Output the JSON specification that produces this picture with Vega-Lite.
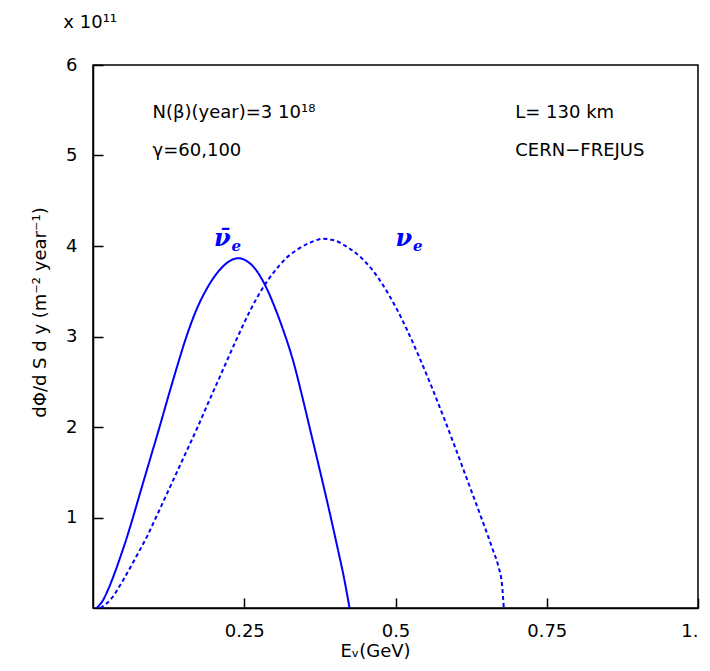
{
  "$schema": "https://vega.github.io/schema/vega-lite/v6.json",
  "width": 605,
  "height": 543,
  "autosize": "none",
  "padding": {"left": 93, "top": 65, "right": 12, "bottom": 63},
  "background": "white",
  "config": {
    "view": {"stroke": "black", "strokeWidth": 1.5},
    "font": "DejaVu Sans",
    "axis": {
      "domainColor": "black", "domainWidth": 1.5,
      "tickColor": "black", "tickWidth": 1.5, "tickSize": -10,
      "labelColor": "black", "labelFont": "DejaVu Sans", "labelFontSize": 18,
      "titleColor": "black", "titleFont": "DejaVu Sans", "titleFontSize": 18, "titleFontWeight": "normal",
      "grid": false
    }
  },
  "datasets": {
    "curves": [
      {"E": 0.006, "flux": 0, "series": "anti"},
      {"E": 0.016, "flux": 0.08, "series": "anti"},
      {"E": 0.026, "flux": 0.22, "series": "anti"},
      {"E": 0.036, "flux": 0.39, "series": "anti"},
      {"E": 0.046, "flux": 0.58, "series": "anti"},
      {"E": 0.056, "flux": 0.78, "series": "anti"},
      {"E": 0.066, "flux": 1.0, "series": "anti"},
      {"E": 0.08, "flux": 1.32, "series": "anti"},
      {"E": 0.095, "flux": 1.66, "series": "anti"},
      {"E": 0.11, "flux": 2.0, "series": "anti"},
      {"E": 0.125, "flux": 2.35, "series": "anti"},
      {"E": 0.14, "flux": 2.69, "series": "anti"},
      {"E": 0.153, "flux": 2.97, "series": "anti"},
      {"E": 0.17, "flux": 3.28, "series": "anti"},
      {"E": 0.19, "flux": 3.55, "series": "anti"},
      {"E": 0.21, "flux": 3.74, "series": "anti"},
      {"E": 0.225, "flux": 3.83, "series": "anti"},
      {"E": 0.24, "flux": 3.865, "series": "anti"},
      {"E": 0.255, "flux": 3.83, "series": "anti"},
      {"E": 0.27, "flux": 3.73, "series": "anti"},
      {"E": 0.285, "flux": 3.56, "series": "anti"},
      {"E": 0.3, "flux": 3.33, "series": "anti"},
      {"E": 0.315, "flux": 3.06, "series": "anti"},
      {"E": 0.33, "flux": 2.75, "series": "anti"},
      {"E": 0.345, "flux": 2.36, "series": "anti"},
      {"E": 0.36, "flux": 1.94, "series": "anti"},
      {"E": 0.375, "flux": 1.52, "series": "anti"},
      {"E": 0.39, "flux": 1.09, "series": "anti"},
      {"E": 0.405, "flux": 0.64, "series": "anti"},
      {"E": 0.415, "flux": 0.33, "series": "anti"},
      {"E": 0.424, "flux": 0, "series": "anti"},
      {"E": 0.012, "flux": 0, "series": "nu"},
      {"E": 0.03, "flux": 0.1, "series": "nu"},
      {"E": 0.05, "flux": 0.31, "series": "nu"},
      {"E": 0.07, "flux": 0.55, "series": "nu"},
      {"E": 0.09, "flux": 0.8, "series": "nu"},
      {"E": 0.104, "flux": 1.0, "series": "nu"},
      {"E": 0.12, "flux": 1.23, "series": "nu"},
      {"E": 0.14, "flux": 1.52, "series": "nu"},
      {"E": 0.16, "flux": 1.81, "series": "nu"},
      {"E": 0.173, "flux": 2.0, "series": "nu"},
      {"E": 0.19, "flux": 2.26, "series": "nu"},
      {"E": 0.21, "flux": 2.56, "series": "nu"},
      {"E": 0.238, "flux": 2.98, "series": "nu"},
      {"E": 0.26, "flux": 3.29, "series": "nu"},
      {"E": 0.28, "flux": 3.53, "series": "nu"},
      {"E": 0.3, "flux": 3.72, "series": "nu"},
      {"E": 0.32, "flux": 3.87, "series": "nu"},
      {"E": 0.34, "flux": 3.97, "series": "nu"},
      {"E": 0.36, "flux": 4.04, "series": "nu"},
      {"E": 0.38, "flux": 4.08, "series": "nu"},
      {"E": 0.4, "flux": 4.06, "series": "nu"},
      {"E": 0.42, "flux": 3.99, "series": "nu"},
      {"E": 0.44, "flux": 3.89, "series": "nu"},
      {"E": 0.46, "flux": 3.75, "series": "nu"},
      {"E": 0.48, "flux": 3.56, "series": "nu"},
      {"E": 0.5, "flux": 3.33, "series": "nu"},
      {"E": 0.52, "flux": 3.06, "series": "nu"},
      {"E": 0.54, "flux": 2.76, "series": "nu"},
      {"E": 0.56, "flux": 2.44, "series": "nu"},
      {"E": 0.58, "flux": 2.1, "series": "nu"},
      {"E": 0.6, "flux": 1.75, "series": "nu"},
      {"E": 0.62, "flux": 1.39, "series": "nu"},
      {"E": 0.64, "flux": 1.03, "series": "nu"},
      {"E": 0.66, "flux": 0.66, "series": "nu"},
      {"E": 0.67, "flux": 0.46, "series": "nu"},
      {"E": 0.676, "flux": 0.26, "series": "nu"},
      {"E": 0.679, "flux": 0, "series": "nu"}
    ],
    "info": [
      {"x": 0.0985, "y": 5.41, "text": "N(β)(year)=3 10¹⁸"},
      {"x": 0.0985, "y": 4.99, "text": "γ=60,100"},
      {"x": 0.698, "y": 5.41, "text": "L= 130 km"},
      {"x": 0.698, "y": 4.99, "text": "CERN−FREJUS"},
      {"x": -0.049, "y": 6.41, "text": "x 10¹¹"}
    ],
    "nus": [
      {"x": 0.2, "y": 3.995, "text": "ν̄"},
      {"x": 0.5, "y": 3.995, "text": "ν"}
    ],
    "subs": [
      {"x": 0.229, "y": 3.95, "text": "e"},
      {"x": 0.529, "y": 3.95, "text": "e"}
    ]
  },
  "layer": [
    {
      "data": {"name": "curves"},
      "mark": {"type": "line", "color": "#0000ff", "strokeWidth": 2, "interpolate": "monotone"},
      "encoding": {
        "x": {
          "field": "E", "type": "quantitative",
          "scale": {"domain": [0, 1], "nice": false, "zero": false},
          "axis": {
            "values": [0.25, 0.5, 0.75, 1],
            "labelExpr": "datum.value == 1 ? '1.' : format(datum.value, '')",
            "labelPadding": 24,
            "title": "Eᵥ(GeV)",
            "titleX": 282, "titleY": 48, "titleBaseline": "alphabetic"
          }
        },
        "y": {
          "field": "flux", "type": "quantitative",
          "scale": {"domain": [0, 6], "nice": false},
          "axis": {
            "values": [1, 2, 3, 4, 5, 6],
            "format": "d",
            "labelPadding": 26,
            "title": "dΦ/d S d y (m⁻² year⁻¹)",
            "titleAngle": -90, "titleX": -48, "titleY": 247,
            "titleAlign": "center", "titleBaseline": "alphabetic"
          }
        },
        "strokeDash": {
          "field": "series", "type": "nominal",
          "scale": {"domain": ["anti", "nu"], "range": [[1, 0], [4, 3]]},
          "legend": null
        }
      }
    },
    {
      "data": {"name": "info"},
      "mark": {"type": "text", "align": "left", "baseline": "alphabetic", "fontSize": 18, "font": "DejaVu Sans", "color": "black"},
      "encoding": {
        "x": {"field": "x", "type": "quantitative"},
        "y": {"field": "y", "type": "quantitative"},
        "text": {"field": "text"}
      }
    },
    {
      "data": {"name": "nus"},
      "mark": {"type": "text", "align": "left", "baseline": "alphabetic", "fontSize": 24, "font": "DejaVu Serif", "fontStyle": "italic", "fontWeight": "bold", "color": "#0000ff"},
      "encoding": {
        "x": {"field": "x", "type": "quantitative"},
        "y": {"field": "y", "type": "quantitative"},
        "text": {"field": "text"}
      }
    },
    {
      "data": {"name": "subs"},
      "mark": {"type": "text", "align": "left", "baseline": "alphabetic", "fontSize": 15, "font": "DejaVu Serif", "fontStyle": "italic", "fontWeight": "bold", "color": "#0000ff"},
      "encoding": {
        "x": {"field": "x", "type": "quantitative"},
        "y": {"field": "y", "type": "quantitative"},
        "text": {"field": "text"}
      }
    }
  ]
}
